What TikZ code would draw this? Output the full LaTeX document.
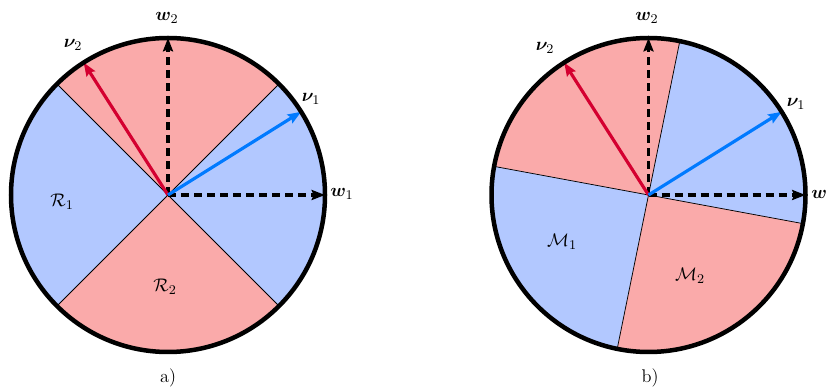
\documentclass[tikz,border=0pt]{standalone}
\usepackage{amsmath,amssymb,bm}
\usetikzlibrary{arrows.meta}
\definecolor{secred}{RGB}{250,170,170}
\definecolor{secblue}{RGB}{178,200,255}
\definecolor{arrred}{RGB}{212,0,48}
\definecolor{arrblue}{RGB}{0,122,255}
\tikzset{
  rim/.style={line width=2.7pt},
  divider/.style={line width=0.45pt},
  vecred/.style={line width=1.9pt,arrred,-{Stealth[length=8pt,width=6pt,inset=1.2pt]}},
  vecblue/.style={line width=1.9pt,arrblue,-{Stealth[length=8pt,width=6pt,inset=1.2pt]}},
  axisvec/.style={line width=2.1pt,black,dash pattern=on 4.8pt off 3pt,-{Stealth[length=8pt,width=6pt,inset=1.2pt]}},
  lab/.style={inner sep=0pt,font=\fontsize{11}{13}\selectfont},
}
\begin{document}
\begin{tikzpicture}[x=0.6pt,y=0.6pt]
\useasboundingbox (0,0) rectangle (828,389);
\def\R{157}
% ---------- a) ----------
\coordinate (ca) at (168,194);
\fill[secred] (ca) -- ++(45:\R) arc (45:135:\R) -- cycle;
\fill[secred] (ca) -- ++(225:\R) arc (225:315:\R) -- cycle;
\fill[secblue] (ca) -- ++(135:\R) arc (135:225:\R) -- cycle;
\fill[secblue] (ca) -- ++(-45:\R) arc (-45:45:\R) -- cycle;
\path (ca) ++(45:\R) coordinate (a45) (ca) ++(225:\R) coordinate (a225)
      (ca) ++(135:\R) coordinate (a135) (ca) ++(315:\R) coordinate (a315)
      (ca) ++(32:\R) coordinate (anu1) (ca) ++(122.5:\R) coordinate (anu2)
      (ca) ++(0:\R) coordinate (aw1) (ca) ++(90:\R) coordinate (aw2);
\draw[divider] (a45) -- (a225);
\draw[divider] (a135) -- (a315);
\draw[axisvec] (ca) -- (aw1);
\draw[axisvec] (ca) -- (aw2);
\draw[vecred] (ca) -- (anu2);
\draw[vecblue] (ca) -- (anu1);
\draw[rim] (ca) circle (\R);
\node[lab] (law2) at (167,371) {$\bm{w}_2$};
\node[lab] (lanu2) at (73,344) {$\bm{\nu}_2$};
\node[lab] (lanu1) at (311,290) {$\bm{\nu}_1$};
\node[lab,anchor=west] (law1) at (330,195) {$\bm{w}_1$};
\node[lab] (lR1) at (62,187) {$\mathcal{R}_1$};
\node[lab] (lR2) at (165,102) {$\mathcal{R}_2$};
\node[lab] (la) at (168,11) {a)};
% ---------- b) ----------
\coordinate (cb) at (648.5,194);
\fill[secblue] (cb) -- ++(-10.5:\R) arc (-10.5:78.5:\R) -- cycle;
\fill[secred] (cb) -- ++(78.5:\R) arc (78.5:169.5:\R) -- cycle;
\fill[secblue] (cb) -- ++(169.5:\R) arc (169.5:258.5:\R) -- cycle;
\fill[secred] (cb) -- ++(258.5:\R) arc (258.5:349.5:\R) -- cycle;
\path (cb) ++(78.5:\R) coordinate (b1) (cb) ++(258.5:\R) coordinate (b2)
      (cb) ++(169.5:\R) coordinate (b3) (cb) ++(-10.5:\R) coordinate (b4)
      (cb) ++(32:\R) coordinate (bnu1) (cb) ++(122.5:\R) coordinate (bnu2)
      (cb) ++(0:\R) coordinate (bw1) (cb) ++(90:\R) coordinate (bw2);
\draw[divider] (b1) -- (b2);
\draw[divider] (b3) -- (b4);
\draw[axisvec] (cb) -- (bw1);
\draw[axisvec] (cb) -- (bw2);
\draw[vecred] (cb) -- (bnu2);
\draw[vecblue] (cb) -- (bnu1);
\draw[rim] (cb) circle (\R);
\node[lab] (lbw2) at (647,371) {$\bm{w}_2$};
\node[lab] (lbnu2) at (545,341) {$\bm{\nu}_2$};
\node[lab] (lbnu1) at (796,285) {$\bm{\nu}_1$};
\node[lab,anchor=west] (lbw1) at (811,195) {$\bm{w}$};
\node[lab] (lM1) at (562,147) {$\mathcal{M}_1$};
\node[lab] (lM2) at (690,113) {$\mathcal{M}_2$};
\node[lab] (lb) at (650,11) {b)};
\end{tikzpicture}
\end{document}
